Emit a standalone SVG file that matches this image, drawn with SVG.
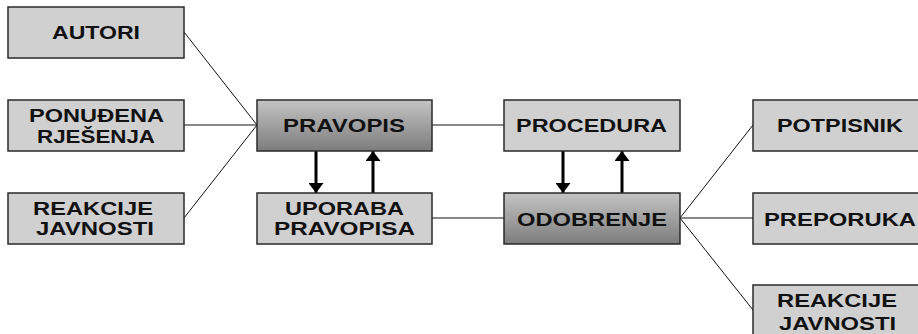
<svg xmlns="http://www.w3.org/2000/svg" width="918" height="334" viewBox="0 0 918 334">
<defs>
<linearGradient id="g" x1="0" y1="0" x2="0" y2="1">
<stop offset="0" stop-color="#c4c4c4"/>
<stop offset="1" stop-color="#7c7c7c"/>
</linearGradient>
<marker id="ah" viewBox="0 0 10 15" refX="10" refY="7.5" markerWidth="10" markerHeight="15" markerUnits="userSpaceOnUse" orient="auto">
<path d="M0,0 L10,7.5 L0,15 z" fill="#000"/>
</marker>
</defs>
<style>
.box{fill:#d0d0d0;stroke:#2a2a2a;stroke-width:1.5}
.dark{fill:url(#g);stroke:#2a2a2a;stroke-width:1.5}
.t{font-family:"Liberation Sans",Arial,sans-serif;font-weight:bold;font-size:17.5px;fill:#111;text-anchor:middle}
.c{stroke:#111;stroke-width:1;fill:none}
.a{stroke:#000;stroke-width:3;fill:none;marker-end:url(#ah)}
</style>
<rect width="918" height="334" fill="#fff"/>
<g id="connectors">
<line class="c" x1="184" y1="32" x2="257" y2="125"/>
<line class="c" x1="184" y1="125" x2="257" y2="125"/>
<line class="c" x1="184" y1="218" x2="257" y2="125"/>
<line class="c" x1="432" y1="125" x2="504" y2="125"/>
<line class="c" x1="432" y1="218" x2="504" y2="218"/>
<line class="c" x1="680" y1="218" x2="753" y2="125"/>
<line class="c" x1="680" y1="218" x2="753" y2="218"/>
<line class="c" x1="680" y1="218" x2="753" y2="310"/>
<line class="a" x1="316" y1="151" x2="316" y2="193"/>
<line class="a" x1="373" y1="193" x2="373" y2="151"/>
<line class="a" x1="563" y1="151" x2="563" y2="193"/>
<line class="a" x1="622" y1="193" x2="622" y2="151"/>
</g>
<g id="autori">
<rect class="box" x="8" y="7" width="176" height="51"/>
<text class="t" x="96" y="39" textLength="88" lengthAdjust="spacingAndGlyphs">AUTORI</text>
</g>
<g id="ponudjena">
<rect class="box" x="8" y="100" width="176" height="51"/>
<text class="t" x="96.5" y="122" textLength="135" lengthAdjust="spacingAndGlyphs">PONUĐENA</text>
<text class="t" x="96" y="143" textLength="118" lengthAdjust="spacingAndGlyphs">RJEŠENJA</text>
</g>
<g id="reakcije1">
<rect class="box" x="8" y="193" width="176" height="51"/>
<text class="t" x="93" y="215" textLength="120" lengthAdjust="spacingAndGlyphs">REAKCIJE</text>
<text class="t" x="95" y="235" textLength="118" lengthAdjust="spacingAndGlyphs">JAVNOSTI</text>
</g>
<g id="pravopis">
<rect class="dark" x="257" y="100" width="175" height="51"/>
<text class="t" x="344" y="132" textLength="122" lengthAdjust="spacingAndGlyphs">PRAVOPIS</text>
</g>
<g id="uporaba">
<rect class="box" x="257" y="193" width="175" height="51"/>
<text class="t" x="344.5" y="215" textLength="119" lengthAdjust="spacingAndGlyphs">UPORABA</text>
<text class="t" x="344.5" y="235" textLength="141" lengthAdjust="spacingAndGlyphs">PRAVOPISA</text>
</g>
<g id="procedura">
<rect class="box" x="504" y="100" width="176" height="51"/>
<text class="t" x="591.5" y="132" textLength="151" lengthAdjust="spacingAndGlyphs">PROCEDURA</text>
</g>
<g id="odobrenje">
<rect class="dark" x="504" y="193" width="176" height="51"/>
<text class="t" x="592" y="226" textLength="150" lengthAdjust="spacingAndGlyphs">ODOBRENJE</text>
</g>
<g id="potpisnik">
<rect class="box" x="753" y="100" width="176" height="51"/>
<text class="t" x="840" y="132" textLength="126" lengthAdjust="spacingAndGlyphs">POTPISNIK</text>
</g>
<g id="preporuka">
<rect class="box" x="753" y="193" width="176" height="51"/>
<text class="t" x="840" y="226" textLength="152" lengthAdjust="spacingAndGlyphs">PREPORUKA</text>
</g>
<g id="reakcije2">
<rect class="box" x="753" y="285" width="176" height="51"/>
<text class="t" x="837" y="307" textLength="120" lengthAdjust="spacingAndGlyphs">REAKCIJE</text>
<text class="t" x="837.5" y="330" textLength="117" lengthAdjust="spacingAndGlyphs">JAVNOSTI</text>
</g>
</svg>
